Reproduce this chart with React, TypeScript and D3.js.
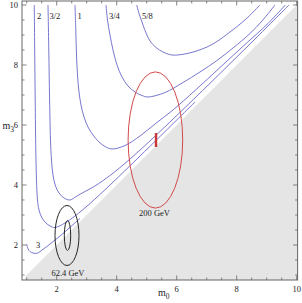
import React from 'react';
import * as d3 from 'd3';

const W = 302;
const H = 303;
const margin = { left: 22, top: 1, right: 4.4, bottom: 23 };

// axis ranges (m0 horizontal, m3 vertical)
const m0Range = [0.843, 10.03];
const m3Range = [0.833, 10.133];
const majorTicks = [2, 4, 6, 8, 10];
const minorTicks = d3.range(1, 10.01, 0.5);

// contour lines, [m0, m3]
const curve3 = [
  [1.0, 2.033], [1.026, 1.917], [1.076, 1.817], [1.16, 1.75], [1.276, 1.72], [1.376, 1.733],
  [1.51, 1.833], [1.676, 1.953], [1.876, 2.11], [2.11, 2.3], [2.343, 2.5], [2.576, 2.706], [2.776, 2.886],
];
const curve2 = [
  [1.253, 10.0], [1.266, 8.5], [1.283, 6.833], [1.303, 5.167], [1.326, 4.167], [1.36, 3.5], [1.41, 3.167],
  [1.51, 2.9], [1.643, 2.733], [1.777, 2.633], [1.943, 2.583], [2.276, 2.733], [2.61, 2.967], [3.11, 3.383],
  [3.777, 4.0], [4.443, 4.64], [5.443, 5.617], [6.61, 6.767],
];
const curve3_2 = [
  [1.71, 10.0], [1.736, 8.5], [1.763, 6.833], [1.793, 5.5], [1.826, 4.833], [1.876, 4.333], [1.96, 3.967],
  [2.076, 3.733], [2.243, 3.567], [2.443, 3.5], [2.676, 3.633], [2.943, 3.783], [3.276, 3.967], [3.776, 4.316],
  [4.443, 4.866], [5.276, 5.626], [6.276, 6.58], [7.443, 7.716], [8.61, 8.866], [9.743, 10.0],
];
const curve1 = [
  [2.61, 10.0], [2.636, 9.166], [2.66, 8.333], [2.693, 7.666], [2.743, 7.1], [2.81, 6.666], [2.91, 6.266],
  [3.043, 5.933], [3.21, 5.666], [3.41, 5.433], [3.61, 5.283], [3.843, 5.2], [4.276, 5.316], [4.776, 5.633],
  [5.276, 6.033], [5.876, 6.5], [6.61, 7.15], [7.443, 7.916], [8.276, 8.683], [9.043, 9.383], [9.62, 10.0],
];
const curve3_4 = [
  [3.643, 10.0], [3.693, 9.5], [3.776, 9.0], [3.876, 8.5], [4.01, 8.0], [4.176, 7.6], [4.376, 7.3],
  [4.61, 7.1], [4.843, 6.983], [5.043, 6.933], [5.61, 7.083], [6.21, 7.416], [6.776, 7.766], [7.343, 8.15],
  [7.876, 8.566], [8.443, 9.05], [8.843, 9.466], [9.276, 10.0],
];
const curve5_8 = [
  [4.666, 10.0], [4.76, 9.666], [4.876, 9.333], [4.993, 9.033], [5.11, 8.8], [5.31, 8.583], [5.543, 8.433],
  [5.843, 8.333], [6.21, 8.356], [6.61, 8.45], [7.01, 8.6], [7.343, 8.783], [7.776, 9.1], [8.276, 9.5], [8.776, 10.0],
];
const contours = [curve3, curve2, curve3_2, curve1, curve3_4, curve5_8];

const topLabels = ['2', '3/2', '1', '3/4', '5/8'];
const topLabelM0 = [1.34, 1.76, 2.69, 3.74, 4.84];
const topLabelM3 = 9.53;

// benchmark ellipses [cx, cy, rx, ry] in m0/m3 units
const ellipse62 = [[2.343, 2.317, 0.4, 1.0], [2.36, 2.317, 0.107, 0.5]];
const ellipse200 = [5.29, 5.5, 0.91, 2.27];
const bar200 = { m0: 5.31, lo: 5.27, hi: 5.73 };

const forbidden = [[0.95, 0.833], [0.95, 0.95], [10.2, 10.2], [10.2, 0.833]];

export default function App() {
  const x = d3.scaleLinear().domain(m0Range).range([margin.left, W - margin.right]);
  const y = d3.scaleLinear().domain(m3Range).range([H - margin.bottom, margin.top]);
  const x0 = margin.left, x1 = W - margin.right, y0 = H - margin.bottom, y1 = margin.top;

  const line = d3.line<number[]>().x(d => x(d[0])).y(d => y(d[1])).curve(d3.curveCatmullRom);
  const poly = d3.line<number[]>().x(d => x(d[0])).y(d => y(d[1]));
  const font = '"Liberation Serif", "Times New Roman", serif';
  const ell = (e: number[], color: string, key: string) => (
    <ellipse key={key} cx={x(e[0])} cy={y(e[1])} rx={x(e[0] + e[2]) - x(e[0])} ry={y(e[1]) - y(e[1] + e[3])}
      fill="none" stroke={color} strokeWidth={1} />
  );

  return (
    <svg width={W} height={H} style={{ position: 'absolute', left: 0, top: 0, background: '#fff' }} fontFamily={font}>
      <defs>
        <clipPath id="frame"><rect x={x0} y={y1} width={x1 - x0} height={y0 - y1} /></clipPath>
      </defs>
      <g clipPath="url(#frame)">
        <path d={poly(forbidden) + 'Z'} fill="#e5e5e5" />
        {contours.map((c, i) => (
          <path key={i} d={line(c) || ''} fill="none" stroke="#7070cc" strokeWidth={0.95} />
        ))}
        {ellipse62.map((e, i) => ell(e, '#262626', 'b' + i))}
        {ell(ellipse200, '#d24a4a', 'r')}
        <line x1={x(bar200.m0)} x2={x(bar200.m0)} y1={y(bar200.lo)} y2={y(bar200.hi)} stroke="#c83838" strokeWidth={2.4} />
      </g>

      <g fontSize={8.5} fill="#222">
        {topLabels.map((t, i) => (
          <text key={t} x={x(topLabelM0[i])} y={y(topLabelM3)}>{t}</text>
        ))}
        <text x={x(1.31)} y={y(1.9)}>3</text>
        <text x={x(2.376)} y={y(0.966)} textAnchor="middle">62.4 GeV</text>
        <text x={x(5.26)} y={y(2.95)} textAnchor="middle">200 GeV</text>
      </g>

      {/* frame and ticks */}
      <rect x={x0} y={y1} width={x1 - x0} height={y0 - y1} fill="none" stroke="#666" strokeWidth={1} />
      <g stroke="#666" strokeWidth={0.8}>
        {minorTicks.map(v => {
          const len = majorTicks.includes(v) ? 4.5 : 2.5;
          return (
            <g key={v}>
              <line x1={x(v)} x2={x(v)} y1={y0} y2={y0 - len} />
              <line x1={x(v)} x2={x(v)} y1={y1} y2={y1 + len} />
              {y(v) > y1 && (
                <>
                  <line x1={x0} x2={x0 + len} y1={y(v)} y2={y(v)} />
                  <line x1={x1} x2={x1 - len} y1={y(v)} y2={y(v)} />
                </>
              )}
            </g>
          );
        })}
      </g>
      <g fontSize={8.5} fill="#222">
        {majorTicks.map(v => (
          <text key={'x' + v} x={x(v)} y={y0 + 12} textAnchor="middle">{v}</text>
        ))}
        {majorTicks.map(v => (
          <text key={'y' + v} x={x0 - 4} y={y(v) + 3} textAnchor="end">{v}</text>
        ))}
      </g>
      <text x={158} y={296} fontSize={10} fill="#222">m<tspan fontSize={7.5} dy={3}>0</tspan></text>
      <text x={2.5} y={129} fontSize={10} fill="#222">m<tspan fontSize={7.5} dy={3}>3</tspan></text>
    </svg>
  );
}
